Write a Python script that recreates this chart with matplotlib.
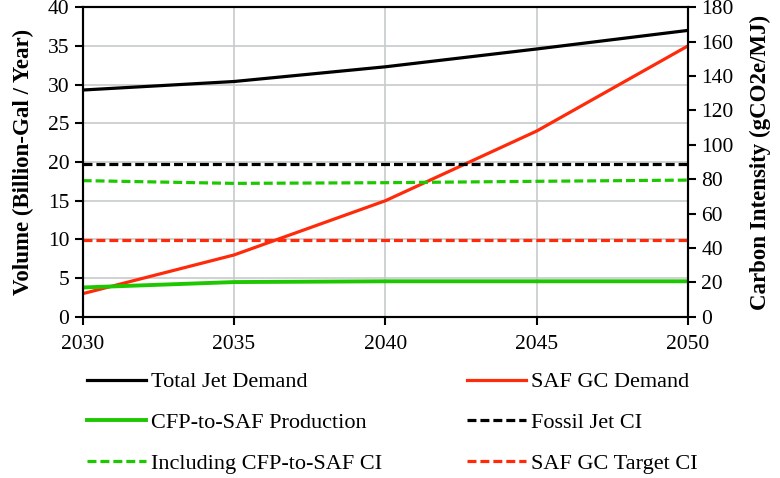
import numpy as np
import matplotlib
matplotlib.use('Agg')
from matplotlib import pyplot as plt

plt.rcParams['font.family'] = ['Liberation Serif', 'DejaVu Serif']

years = [2030, 2035, 2040, 2045, 2050]

# volumes (billion gal / year), left axis
total_jet = [29.3, 30.4, 32.3, 34.6, 37.0]
saf_gc = [3.0, 8.0, 15.0, 24.0, 35.0]
cfp_prod = [3.8, 4.5, 4.6, 4.6, 4.6]

# carbon intensity (gCO2e/MJ), right axis
fossil_ci = [89.0, 89.0, 89.0, 89.0, 89.0]
incl_cfp_ci = [79.2, 77.6, 78.0, 78.8, 79.5]
saf_target_ci = [44.5, 44.5, 44.5, 44.5, 44.5]

black = '#000000'
red = '#ff2a0a'
green = '#1ec800'

fig = plt.figure(figsize=(7.8, 4.78), dpi=100)
ax = fig.add_axes([0.106, 0.337, 0.776, 0.648])
ax2 = ax.twinx()

lw = 2.3
l1, = ax.plot(years, total_jet, color=black, lw=lw, label='Total Jet Demand')
l2, = ax.plot(years, saf_gc, color=red, lw=lw, label='SAF GC Demand')
l3, = ax.plot(years, cfp_prod, color=green, lw=lw + 0.5, label='CFP-to-SAF Production')

dash = (2.8, 1.25)
l4, = ax2.plot(years, fossil_ci, color=black, lw=lw, ls=(0, dash), label='Fossil Jet CI')
l5, = ax2.plot(years, incl_cfp_ci, color=green, lw=lw, ls=(0, dash), label='Including CFP-to-SAF CI')
l6, = ax2.plot(years, saf_target_ci, color=red, lw=lw, ls=(0, dash), label='SAF GC Target CI')

ax.set_xlim(2030, 2050)
ax.set_ylim(0, 40)
ax2.set_ylim(0, 180)
ax.set_xticks(years)
ax.set_yticks(np.arange(0, 41, 5))
ax2.set_yticks(np.arange(0, 181, 20))

ax.grid(True, color='#c6cbcb', lw=1.2)
ax.set_axisbelow(True)

for a in (ax, ax2):
    for s in a.spines.values():
        s.set_linewidth(1.5)
    a.tick_params(labelsize=15.5, width=1.5, length=6, direction='out')
ax.tick_params(axis='x', pad=7)

ax.set_ylabel('Volume (Billion-Gal / Year)', fontsize=16.5, fontweight='bold', labelpad=10)
ax2.set_ylabel('Carbon Intensity (gCO2e/MJ)', fontsize=16.5, fontweight='bold', labelpad=12)

handles = [l1, l3, l5, l2, l4, l6]
fig.legend(handles=handles, labels=[h.get_label() for h in handles],
           ncol=2, loc='upper left', bbox_to_anchor=(0.112, 0.222),
           frameon=False, fontsize=16, handlelength=2.65, handletextpad=0.2,
           columnspacing=3.85, labelspacing=0.9, borderaxespad=0, borderpad=0)

fig.savefig('out.png', dpi=100)
